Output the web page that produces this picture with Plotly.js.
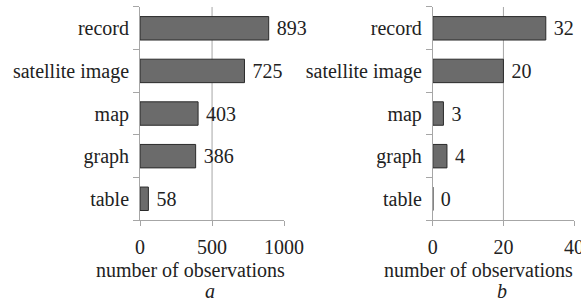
<!DOCTYPE html>
<html><head><meta charset="utf-8">
<script src="https://cdn.plot.ly/plotly-3.0.1.min.js"></script>
<style>html,body{margin:0;padding:0;background:#fff}#c{width:581px;height:304px}</style>
</head><body><div id="c"></div>
<script>
const categories = ['record', 'satellite image', 'map', 'graph', 'table'];
const valuesA = [893, 725, 403, 386, 58];
const valuesB = [32, 20, 3, 4, 0];
const ticksA = [0, 500, 1000];
const ticksB = [0, 20, 40];

const F = 'Liberation Serif';
const FS = 20;
const txt = '#222';
const axc = '#a6a6a6';

function bar(vals, xa, ya) {
  return {
    type: 'bar', orientation: 'h', x: vals, y: categories, xaxis: xa, yaxis: ya,
    width: 0.55,
    marker: {color: '#6b6b6b', line: {color: '#2a2a2a', width: 1}},
    texttemplate: '\u00a0%{x}', textposition: 'outside', cliponaxis: false,
    constraintext: 'none',
    textfont: {family: F, size: FS, color: txt},
    hoverinfo: 'none'
  };
}

const xcommon = {
  showgrid: false, zeroline: false, showline: true, linecolor: axc, linewidth: 1,
  ticks: 'outside', ticklen: 5, tickcolor: axc, tickmode: 'array',
  ticklabeloverflow: 'allow', ticklabelstandoff: 4,
  tickfont: {family: F, size: FS, color: txt}, fixedrange: true
};
const ycommon = {
  type: 'category', categoryorder: 'array', categoryarray: categories.slice().reverse(),
  showgrid: false, zeroline: false, showline: true, linecolor: axc, linewidth: 1,
  ticks: 'outside', ticklen: 6, tickcolor: axc, tickson: 'boundaries',
  tickfont: {family: F, size: FS, color: txt}, ticklabelstandoff: 6,
  domain: [0.276, 0.977], fixedrange: true
};

const layout = {
  width: 581, height: 304, margin: {l: 0, r: 0, t: 0, b: 0},
  paper_bgcolor: '#fff', plot_bgcolor: '#fff', showlegend: false,
  font: {family: F, size: FS, color: txt},
  xaxis: Object.assign({}, xcommon, {domain: [0.241, 0.489], range: [0, 1000], tickvals: ticksA, anchor: 'y'}),
  yaxis: Object.assign({}, ycommon, {anchor: 'x'}),
  xaxis2: Object.assign({}, xcommon, {domain: [0.745, 0.988], range: [0, 40], tickvals: ticksB, anchor: 'y2'}),
  yaxis2: Object.assign({}, ycommon, {anchor: 'x2'}),
  shapes: [
    {type: 'line', xref: 'x', yref: 'paper', x0: ticksA[1], x1: ticksA[1], y0: 0.276, y1: 0.977, line: {color: axc, width: 1}, layer: 'below'},
    {type: 'line', xref: 'x2', yref: 'paper', x0: ticksB[1], x1: ticksB[1], y0: 0.276, y1: 0.977, line: {color: axc, width: 1}, layer: 'below'}
  ],
  annotations: [
    {text: 'number of observations', xref: 'paper', yref: 'paper', x: 190/581, y: 1 - 270/304, showarrow: false, xanchor: 'center', yanchor: 'middle', borderpad: 0, font: {family: F, size: FS, color: txt}},
    {text: 'number of observations', xref: 'paper', yref: 'paper', x: 478/581, y: 1 - 270/304, showarrow: false, xanchor: 'center', yanchor: 'middle', borderpad: 0, font: {family: F, size: FS, color: txt}},
    {text: '<i>a</i>', xref: 'paper', yref: 'paper', x: 210/581, y: 1 - 291/304, showarrow: false, xanchor: 'center', yanchor: 'middle', borderpad: 0, font: {family: F, size: FS, color: txt}},
    {text: '<i>b</i>', xref: 'paper', yref: 'paper', x: 502/581, y: 1 - 291/304, showarrow: false, xanchor: 'center', yanchor: 'middle', borderpad: 0, font: {family: F, size: FS, color: txt}}
  ]
};

Plotly.newPlot('c', [bar(valuesA, 'x', 'y'), bar(valuesB, 'x2', 'y2')], layout, {staticPlot: true, displayModeBar: false});
</script></body></html>
